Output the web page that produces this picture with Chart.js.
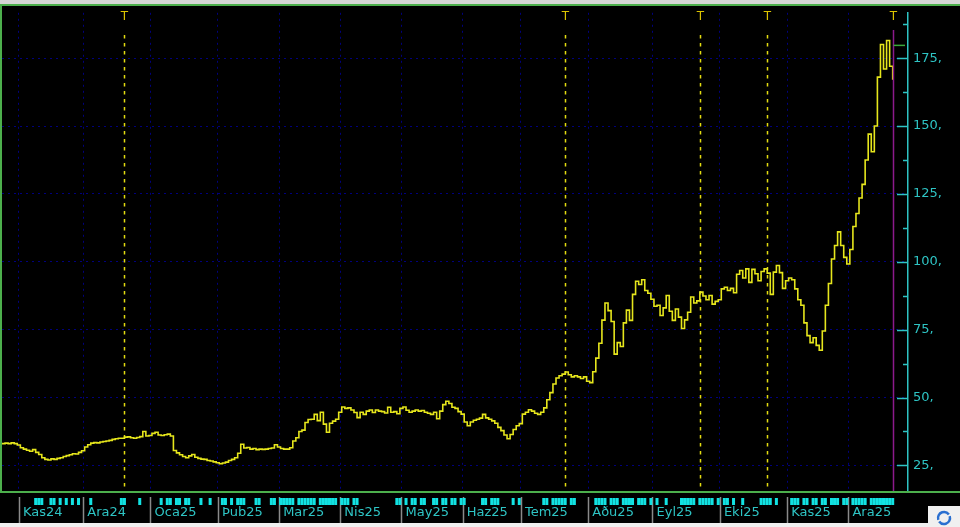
<!DOCTYPE html>
<html>
<head>
<meta charset="utf-8">
<script src="https://cdn.jsdelivr.net/npm/chart.js@4.4.0/dist/chart.umd.min.js"></script>
<style>
  html, body { margin: 0; padding: 0; background: #000; }
  #priceChart { display: block; }
</style>
</head>
<body>
<canvas id="priceChart" width="960" height="527"></canvas>
<script>
// Daily closes, one per trading day (late Oct 2024 -> Dec 2025)
const closes = [
    33.0, 33.2, 33.0, 33.3, 33.0, 32.5,
    // Kas24
    31.5, 31.0, 30.6, 30.2, 30.8, 29.8, 29.0, 27.8, 27.2, 27.0, 27.4, 27.2, 27.6, 27.8, 28.3, 28.6, 28.9, 29.3, 29.2, 29.8, 30.4,
    // Ara24
    31.8, 32.6, 33.2, 33.4, 33.3, 33.6, 33.8, 34.0, 34.2, 34.6, 34.8, 35.0, 35.0, 35.4, 35.5, 35.2, 35.0, 35.3, 35.6, 37.5, 35.8, 36.0,
    // Oca25
    36.8, 37.2, 36.2, 36.0, 36.3, 36.5, 35.8, 30.5, 29.6, 28.9, 28.3, 27.8, 28.5, 29.0, 28.0, 27.6, 27.3, 27.2, 26.8, 26.6, 26.3, 26.0,
    // Şub25
    25.6, 25.9, 26.2, 26.8, 27.2, 27.8, 29.5, 32.8, 31.4, 31.6, 31.0, 31.2, 30.8, 31.0, 30.9, 31.0, 31.2, 31.4, 32.6, 31.8,
    // Mar25
    31.2, 31.0, 31.0, 31.5, 34.0, 35.2, 37.5, 38.0, 40.8, 41.9, 42.0, 43.8, 41.5, 44.6, 40.2, 37.2, 40.5, 41.3, 42.0, 44.6,
    // Nis25
    46.5, 46.0, 46.2, 45.4, 44.5, 42.6, 44.6, 43.8, 45.0, 45.4, 44.5, 45.4, 45.0, 44.8, 44.3, 46.4, 44.6, 44.8, 44.0, 46.0,
    // May25
    46.5, 45.3, 44.6, 45.0, 45.4, 45.0, 45.2, 44.6, 44.2, 43.8, 44.6, 42.2, 45.0, 47.4, 48.6, 47.8, 46.4, 46.0, 44.8, 43.9,
    // Haz25
    41.0, 39.6, 41.0, 41.6, 42.0, 42.4, 43.8, 42.5, 42.0, 41.4, 40.5, 39.0, 37.8, 36.2, 34.8, 36.4, 38.2, 39.6, 40.4,
    // Tem25
    43.9, 44.6, 45.5, 45.0, 44.2, 43.8, 44.6, 46.2, 49.2, 51.8, 55.0, 57.2, 58.0, 58.6, 59.4, 58.4, 57.6, 58.0, 57.6, 57.0, 57.6, 56.0,
    // Ağu25
    55.5, 59.5, 64.5, 70.0, 78.5, 84.8, 82.0, 78.0, 66.0, 70.2, 68.8, 77.5, 82.2, 78.4, 88.0, 92.8, 91.6, 93.4, 89.4, 88.4, 86.2,
    // Eyl25
    83.6, 84.0, 80.2, 83.0, 87.6, 81.8, 78.4, 82.6, 79.6, 75.4, 78.6, 81.4, 87.0, 84.8, 85.6, 88.8, 87.4, 86.0, 87.6, 84.4, 85.4, 86.0,
    // Eki25
    90.0, 90.6, 89.4, 90.2, 88.6, 95.4, 96.8, 94.0, 97.4, 92.4, 97.2, 95.6, 93.0, 96.4, 97.4, 95.8, 88.0, 96.2, 98.6, 96.0, 90.2, 93.0,
    // Kas25
    94.0, 93.4, 90.0, 86.0, 84.0, 77.5, 72.8, 70.2, 72.0, 69.2, 67.4, 74.5, 84.0, 92.0, 101.0, 106.0, 111.0, 106.0, 101.6, 99.2,
    // Ara25
    104.5, 113.0, 117.8, 123.5, 128.5, 137.5, 147.0, 140.5, 150.0, 168.0, 180.0, 171.0, 181.5, 172.0, 167.0
];

const monthLabels = ['Kas24', 'Ara24', 'Oca25', 'Þub25', 'Mar25', 'Nis25', 'May25', 'Haz25', 'Tem25', 'Aðu25', 'Eyl25', 'Eki25', 'Kas25', 'Ara25'];
const monthStarts = [6, 27, 49, 71, 91, 111, 131, 151, 170, 192, 213, 235, 257, 277];
const yTicks = [25, 37.5, 50, 62.5, 75, 87.5, 100, 112.5, 125, 137.5, 150, 162.5, 175, 187.5];

// "T" event markers and news blocks, as trading day indexes
const eventDays = [40, 184, 228, 250, 291];
const newsDays = [11, 12, 13, 16, 17, 19, 21, 23, 25, 29, 39, 40, 45, 52, 54, 55, 57, 58, 60, 61, 65, 68,
    72, 73, 75, 77, 78, 79, 83, 84, 88, 89, 91, 92, 93, 94, 95, 97, 98, 99, 100, 101, 102, 104, 105, 106,
    107, 108, 109, 111, 112, 113, 115, 116, 129, 130, 132, 134, 135, 137, 138, 141, 142, 144, 145, 147,
    148, 150, 151, 157, 158, 160, 161, 162, 167, 169, 177, 178, 180, 181, 182, 183, 184, 186, 187, 194,
    195, 196, 197, 199, 200, 201, 203, 204, 205, 206, 208, 209, 210, 212, 214, 217, 222, 223, 224, 225,
    226, 228, 229, 230, 231, 232, 234, 236, 237, 239, 242, 248, 249, 250, 251, 253, 258, 259, 260, 262,
    263, 265, 266, 268, 269, 271, 272, 273, 275, 276, 278, 279, 280, 281, 282, 284, 285, 286, 287, 288,
    289, 290, 291];
const lastDay = 291;
const lastMark = 179.7;

const CYAN = '#2ec4c4';
const GREEN = '#4caf4c';

// black terminal background with window chrome strips
const terminalBg = {
    id: 'terminalBg',
    beforeDraw(chart) {
        const c = chart.ctx;
        c.save();
        c.fillStyle = '#000';
        c.fillRect(0, 0, chart.width, chart.height);
        c.fillStyle = '#d6d6d6';
        c.fillRect(0, 0, chart.width, 4);
        c.fillStyle = '#f0f0f0';
        c.fillRect(0, 523, chart.width, 4);
        c.fillRect(928, 506, 32, 21);
        // refresh icon in the corner
        c.strokeStyle = '#2a6fd0';
        c.lineWidth = 2.5;
        c.beginPath();
        c.arc(944, 518, 6, Math.PI * 0.9, Math.PI * 1.8);
        c.stroke();
        c.beginPath();
        c.arc(944, 518, 6, Math.PI * 1.9, Math.PI * 0.8);
        c.stroke();
        c.restore();
    }
};

// dashed yellow "T" lines behind the price
const eventLines = {
    id: 'eventLines',
    beforeDatasetsDraw(chart) {
        const c = chart.ctx, x = chart.scales.x, area = chart.chartArea;
        c.save();
        c.strokeStyle = '#e3dc10';
        c.lineWidth = 1.5;
        c.setLineDash([3.5, 4.5]);
        c.fillStyle = '#dcc400';
        c.font = '12px "DejaVu Sans"';
        c.textAlign = 'center';
        c.textBaseline = 'middle';
        eventDays.forEach(d => {
            const px = Math.round(x.getPixelForValue(d)) + 0.5;
            if (d !== lastDay) {
                c.beginPath();
                c.moveTo(px, 35);
                c.lineTo(px, area.bottom);
                c.stroke();
            }
            c.fillText('T', px, 17);
        });
        c.restore();
    }
};

// frame, last-day line, axis tick marks and the bottom strip
const terminalOverlay = {
    id: 'terminalOverlay',
    afterDatasetsDraw(chart) {
        const c = chart.ctx, x = chart.scales.x, y = chart.scales.y, area = chart.chartArea;
        c.save();
        const lx = Math.round(x.getPixelForValue(lastDay)) + 0.5;
        c.strokeStyle = '#8c1a8c';
        c.lineWidth = 1.5;
        c.beginPath();
        c.moveTo(lx, 30);
        c.lineTo(lx, area.bottom);
        c.stroke();
        const my = y.getPixelForValue(lastMark);
        c.strokeStyle = '#3aa83a';
        c.beginPath();
        c.moveTo(lx, my);
        c.lineTo(area.right - 3, my);
        c.stroke();
        c.restore();
    },
    afterDraw(chart) {
        const c = chart.ctx, x = chart.scales.x, y = chart.scales.y, area = chart.chartArea;
        c.save();
        // green frame
        c.strokeStyle = GREEN;
        c.lineWidth = 2;
        c.beginPath();
        c.moveTo(0, 5); c.lineTo(chart.width, 5);
        c.moveTo(1, 5); c.lineTo(1, area.bottom);
        c.moveTo(0, area.bottom); c.lineTo(chart.width, area.bottom);
        c.stroke();
        // y tick marks pointing into the plot
        c.strokeStyle = CYAN;
        c.lineWidth = 1.5;
        yTicks.forEach(v => {
            const py = Math.round(y.getPixelForValue(v)) + 0.5;
            const len = v % 25 === 0 ? 11 : 5;
            c.beginPath();
            c.moveTo(area.right - len, py);
            c.lineTo(area.right, py);
            c.stroke();
        });
        // month separators in the bottom strip
        c.strokeStyle = '#8a8a8a';
        c.lineWidth = 1.5;
        monthStarts.forEach(d => {
            const px = Math.round(x.getPixelForValue(d - 0.5)) + 0.5;
            c.beginPath();
            c.moveTo(px, 497);
            c.lineTo(px, 523);
            c.stroke();
        });
        // news blocks
        c.fillStyle = '#12e2e2';
        newsDays.forEach(d => {
            const px = x.getPixelForValue(d);
            c.fillRect(px - 1.5, 498, 3, 7);
        });
        c.restore();
    }
};

const ctx = document.getElementById('priceChart');

new Chart(ctx, {
    type: 'line',
    data: {
        datasets: [{
            label: 'Kapanış',
            data: closes.map((v, i) => ({ x: i, y: v })),
            borderColor: '#e6e61c',
            borderWidth: 1.6,
            pointRadius: 0,
            stepped: true,
            fill: false
        }]
    },
    options: {
        responsive: false,
        animation: false,
        layout: {
            padding: { left: 2, top: 5, right: 0, bottom: 0 }
        },
        plugins: {
            legend: { display: false },
            tooltip: { enabled: false }
        },
        scales: {
            x: {
                type: 'linear',
                min: 0,
                max: 296,
                afterBuildTicks: scale => {
                    scale.ticks = monthStarts.map(d => ({ value: d - 0.5 }));
                },
                afterFit: scale => { scale.height = 35; },
                ticks: {
                    autoSkip: false,
                    maxRotation: 0,
                    align: 'start',
                    padding: 13,
                    color: CYAN,
                    font: { family: 'DejaVu Sans', size: 13 },
                    callback: (value, index) => ' ' + monthLabels[index]
                },
                grid: {
                    color: '#00007e',
                    lineWidth: 1,
                    drawTicks: false
                },
                border: {
                    display: true,
                    color: GREEN,
                    width: 2,
                    dash: [2, 4]
                }
            },
            y: {
                position: 'right',
                min: 15.2,
                max: 191.7,
                afterBuildTicks: scale => {
                    scale.ticks = yTicks.map(v => ({ value: v }));
                },
                afterFit: scale => { scale.width = 52; },
                ticks: {
                    padding: 5,
                    color: CYAN,
                    font: { family: 'DejaVu Sans', size: 13 },
                    callback: value => value % 25 === 0 ? value + ',' : ''
                },
                grid: {
                    color: c => (c.tick && c.tick.value % 25 === 0) ? '#00007e' : 'rgba(0,0,0,0)',
                    lineWidth: 1,
                    drawTicks: false
                },
                border: {
                    display: true,
                    color: CYAN,
                    width: 1.5,
                    dash: [2, 4]
                }
            }
        }
    },
    plugins: [terminalBg, eventLines, terminalOverlay]
});
</script>
</body>
</html>
